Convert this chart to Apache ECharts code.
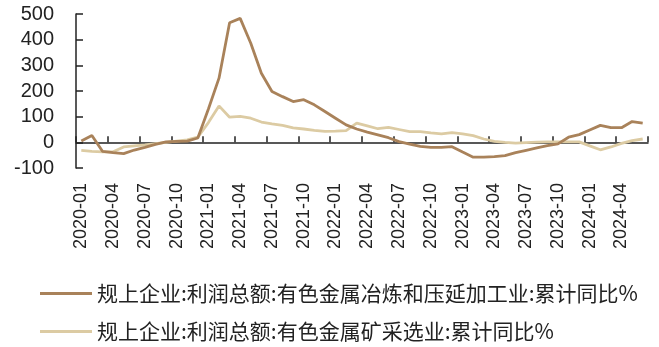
<!DOCTYPE html>
<html>
<head>
<meta charset="utf-8">
<script src="https://cdn.jsdelivr.net/npm/echarts@6/dist/echarts.min.js"></script>
<style>
  html, body { margin: 0; padding: 0; background: #fff; }
  #chart { width: 659px; height: 347px; }
</style>
</head>
<body>
<div id="chart"></div>
<script>
// Monthly categories, 2020-01 .. 2024-06
const months = [];
for (let y = 2020; y <= 2024; y++) {
  for (let m = 1; m <= 12; m++) {
    if (y === 2024 && m > 6) break;
    months.push(y + '-' + String(m).padStart(2, '0'));
  }
}

// 规上企业:利润总额:有色金属冶炼和压延加工业:累计同比 (%)
const smeltingYoY = [
  5, 27, -35, -40, -44, -30, -20, -8, 2, 4, 5, 17,
  130, 250, 466, 483, 386, 269, 198, 178, 159, 166, 146, 120,
  94, 68, 52, 40, 29, 18, 3, -7, -16, -20, -20, -17,
  -38, -58, -58, -56, -52, -40, -31, -22, -13, -6, 20, 30,
  48, 66, 57, 57, 81, 75
];

// 规上企业:利润总额:有色金属矿采选业:累计同比 (%)
const miningYoY = [
  -31, -35, -37, -37, -18, -14, -10, -5, 0, 5, 10, 20,
  77, 142, 98, 101, 94, 79, 72, 66, 56, 52, 47, 43,
  44, 46, 75, 64, 53, 58, 50, 42, 42, 37, 33, 38,
  33, 26, 13, 4, 0, -3, -1, 1, 2, 2, 2, 2,
  -14, -29, -18, -4, 7, 13
];

const seriesNames = [
  '规上企业:利润总额:有色金属冶炼和压延加工业:累计同比%',
  '规上企业:利润总额:有色金属矿采选业:累计同比%'
];
const yTicks = { min: -100, max: 500, step: 100 };

const colors = ['#a9825a', '#dccba3'];
const axisColor = '#222';
const numFont = '"Liberation Sans", Arial, sans-serif';
const cjkFont = '"Noto Sans CJK SC", sans-serif';

const chart = echarts.init(document.getElementById('chart'), null, { renderer: 'canvas' });

chart.setOption({
  animation: false,
  backgroundColor: '#fff',
  grid: { left: 76, right: 11, top: 14, bottom: 179, containLabel: false },
  legend: {
    orient: 'vertical',
    left: 40,
    top: 283,
    height: 90,
    padding: 0,
    itemWidth: 52,
    itemHeight: 3,
    itemGap: 17,
    icon: 'rect',
    textStyle: { fontFamily: cjkFont, fontSize: 21, color: '#222' },
    data: seriesNames
  },
  xAxis: [
    {
      // labels along the bottom of the plot
      type: 'category',
      data: months,
      boundaryGap: true,
      position: 'bottom',
      axisLine: { show: false, onZero: false },
      axisTick: { show: false },
      axisLabel: {
        interval: 2,
        rotate: 90,
        margin: 15,
        fontFamily: numFont,
        fontSize: 18,
        color: '#222'
      },
      splitLine: { show: false }
    },
    {
      // axis line and ticks running through zero
      type: 'category',
      data: months,
      boundaryGap: true,
      position: 'bottom',
      axisLine: { show: true, onZero: true, lineStyle: { color: axisColor, width: 1.5 } },
      axisTick: { show: true, inside: true, interval: 2, length: 6, lineStyle: { color: axisColor, width: 1.5 } },
      axisLabel: { show: false },
      splitLine: { show: false }
    }
  ],
  yAxis: {
    type: 'value',
    min: yTicks.min,
    max: yTicks.max,
    interval: yTicks.step,
    axisLine: { show: true, lineStyle: { color: axisColor, width: 1.5 } },
    axisTick: { show: true, inside: true, length: 7, lineStyle: { color: axisColor, width: 1.5 } },
    axisLabel: { margin: 22, fontFamily: numFont, fontSize: 20, color: '#222' },
    splitLine: { show: false }
  },
  series: [
    {
      name: seriesNames[0],
      type: 'line',
      xAxisIndex: 0,
      data: smeltingYoY,
      symbol: 'none',
      itemStyle: { color: colors[0] },
      lineStyle: { color: colors[0], width: 2.8 },
      z: 3
    },
    {
      name: seriesNames[1],
      type: 'line',
      xAxisIndex: 0,
      data: miningYoY,
      symbol: 'none',
      itemStyle: { color: colors[1] },
      lineStyle: { color: colors[1], width: 2.8 },
      z: 2
    }
  ]
});
</script>
</body>
</html>
